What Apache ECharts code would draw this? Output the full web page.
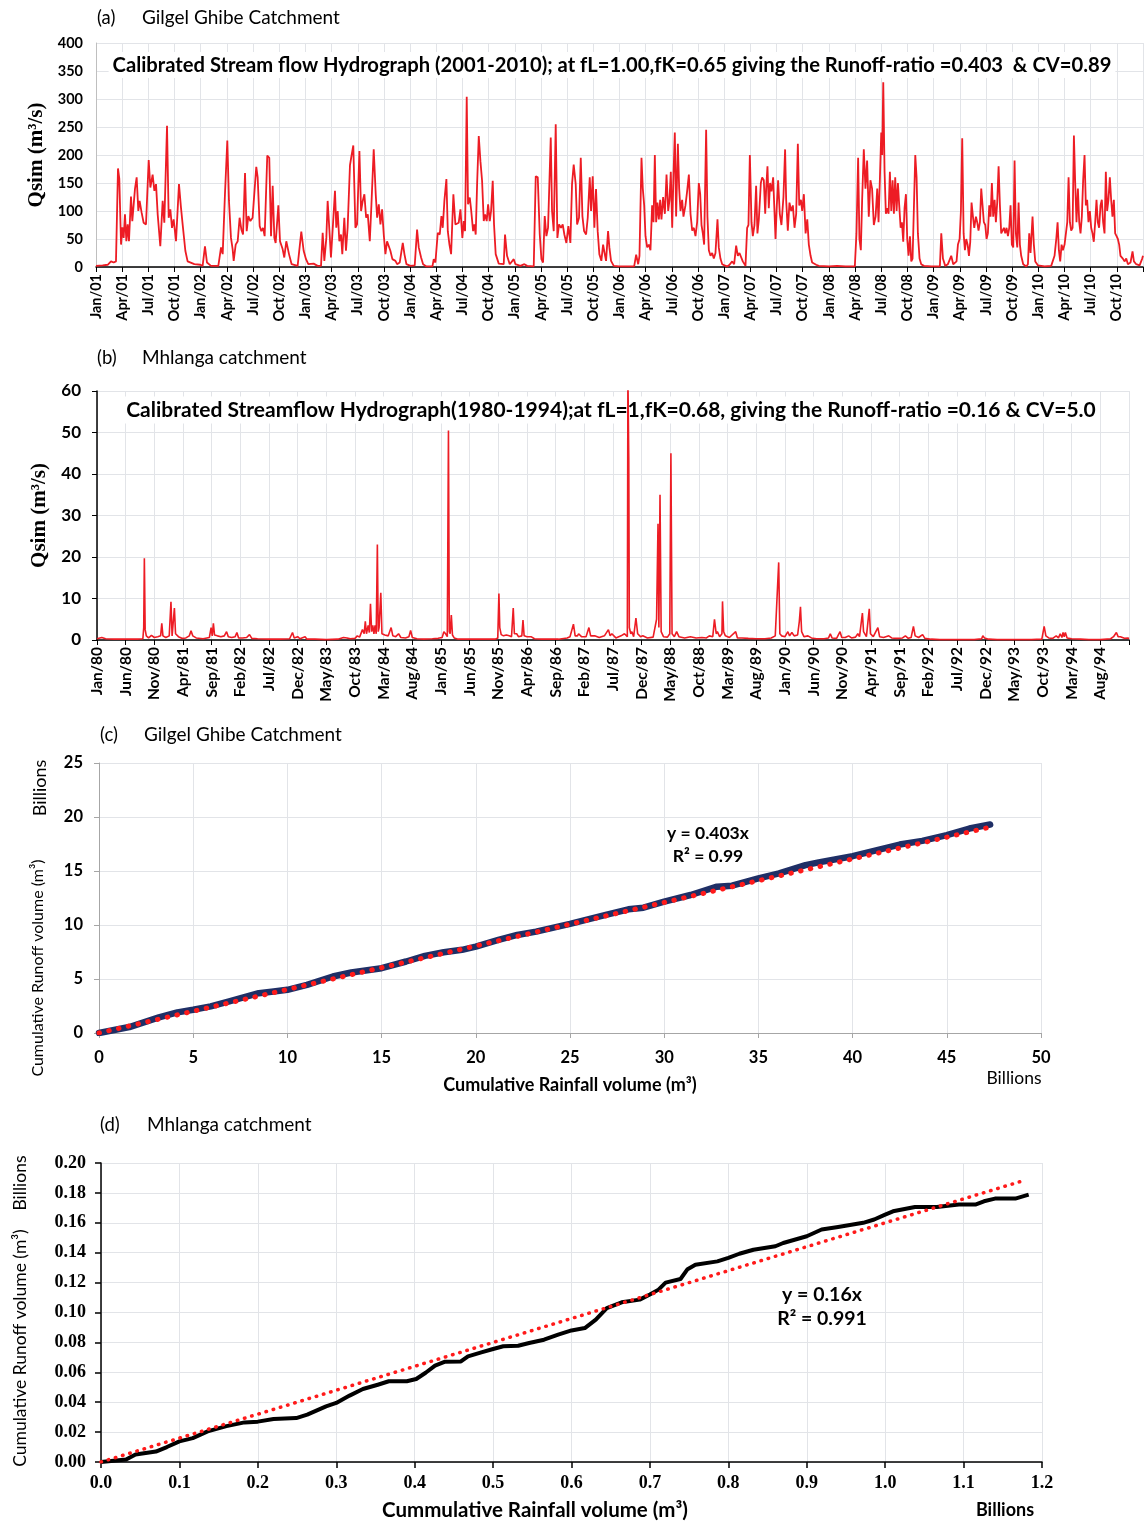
<!DOCTYPE html>
<html><head><meta charset="utf-8">
<script src="https://cdn.jsdelivr.net/npm/echarts@6/dist/echarts.min.js"></script>
<style>html,body{margin:0;padding:0;background:#fff}#c{width:1145px;height:1529px}</style>
</head><body><div id="c"></div>
<script>
// ---------- Panel (a): Gilgel Ghibe daily flow, x = months since Jan 2001, y = Qsim (m3/s)
const labelsA = ['Jan/01','Apr/01','Jul/01','Oct/01','Jan/02','Apr/02','Jul/02','Oct/02','Jan/03','Apr/03','Jul/03','Oct/03','Jan/04','Apr/04','Jul/04','Oct/04','Jan/05','Apr/05','Jul/05','Oct/05','Jan/06','Apr/06','Jul/06','Oct/06','Jan/07','Apr/07','Jul/07','Oct/07','Jan/08','Apr/08','Jul/08','Oct/08','Jan/09','Apr/09','Jul/09','Oct/09','Jan/10','Apr/10','Jul/10','Oct/10'];
const flow2001 = [[0,2],[0.76,3],[1.34,4],[1.72,10],[2.02,8],[2.29,10],[2.52,176],[2.67,158],[2.87,40],[3.02,71],[3.17,52],[3.32,94],[3.48,46],[3.63,76],[3.78,46],[4.01,126],[4.16,82],[4.47,140],[4.66,160],[4.85,100],[5.0,118],[5.23,97],[5.46,79],[5.73,76],[6.04,191],[6.23,142],[6.49,165],[6.69,136],[6.88,148],[7.07,94],[7.37,37],[7.64,118],[7.83,79],[8.14,252],[8.33,88],[8.52,103],[8.71,70],[8.9,85],[9.17,46],[9.51,148],[9.74,106],[9.93,76],[10.24,29],[10.5,10],[11.27,5],[11.96,4]];
const flow2002 = [[12.22,2],[12.49,37],[12.72,8],[13.18,2],[14.02,2],[14.33,35],[14.52,23],[14.78,130],[15.05,226],[15.24,118],[15.47,52],[15.66,32],[15.78,11],[16.01,40],[16.24,46],[16.46,88],[16.66,67],[16.85,58],[17.08,168],[17.27,64],[17.46,91],[17.69,82],[17.95,88],[18.07,115],[18.37,179],[18.53,160],[18.76,73],[18.95,64],[19.14,70],[19.33,55],[19.63,199],[19.86,195],[20.06,55],[20.25,145],[20.44,52],[20.59,43],[20.9,110],[21.09,46],[21.39,32],[21.58,17],[21.81,46],[21.97,49],[22.12,23],[22.42,5],[23.11,2],[23.53,63],[23.8,29]];
const flow2003 = [[24.07,14],[24.33,5],[24.94,6],[25.4,2],[25.79,2],[25.98,61],[26.17,11],[26.4,52],[26.55,118],[26.78,58],[26.93,17],[27.16,76],[27.39,136],[27.54,70],[27.7,100],[27.89,46],[28.08,58],[28.23,23],[28.46,88],[28.65,29],[28.84,70],[29.11,182],[29.3,200],[29.49,217],[29.73,70],[29.92,76],[30.19,207],[30.38,100],[30.57,118],[30.76,130],[30.96,88],[31.15,94],[31.38,46],[31.57,112],[31.83,210],[32.06,130],[32.22,88],[32.41,112],[32.6,76],[32.79,103],[32.98,58],[33.17,23],[33.36,46],[33.55,49],[33.74,29],[33.97,14],[34.32,11],[34.51,5],[34.81,8],[35.16,43],[35.35,23],[35.58,5]];
const flow2004 = [[36.04,2],[36.53,3],[36.8,67],[36.99,35],[37.26,17],[37.49,5],[37.87,1],[38.56,1],[38.71,14],[38.9,8],[39.17,61],[39.4,58],[39.59,91],[39.74,70],[39.93,118],[40.16,157],[40.32,64],[40.51,40],[40.7,23],[40.96,130],[41.19,76],[41.38,73],[41.57,79],[41.77,103],[41.99,52],[42.15,82],[42.3,64],[42.49,304],[42.64,112],[42.84,124],[42.99,103],[43.22,64],[43.37,76],[43.52,58],[43.68,148],[43.87,234],[44.06,189],[44.25,154],[44.44,82],[44.59,94],[44.78,82],[44.94,112],[45.13,82],[45.28,100],[45.47,154],[45.62,76],[45.81,23],[46.16,6],[46.73,5],[46.88,58],[47.11,20],[47.42,5],[47.88,14]];
const flow2005 = [[48.07,5],[48.64,2],[49.1,5],[49.41,2],[50.17,1],[50.4,162],[50.63,160],[50.86,58],[51.05,14],[51.24,8],[51.43,91],[51.62,55],[51.81,70],[52.12,231],[52.27,100],[52.46,64],[52.69,255],[52.88,52],[53.07,76],[53.3,70],[53.49,76],[53.68,58],[53.91,43],[54.14,73],[54.37,43],[54.56,148],[54.75,183],[54.98,148],[55.14,76],[55.36,88],[55.56,195],[55.75,91],[55.94,64],[56.17,58],[56.36,88],[56.59,160],[56.74,100],[56.93,162],[57.12,70],[57.31,139],[57.5,64],[57.69,23],[57.92,11],[58.12,40],[58.31,23],[58.46,11],[58.69,64],[58.84,35],[59.03,11],[59.34,2],[59.91,1]];
const flow2006 = [[60.69,1],[61.68,1],[61.91,22],[62.14,5],[62.29,20],[62.52,195],[62.67,140],[62.83,110],[62.98,55],[63.17,35],[63.36,40],[63.55,30],[63.74,110],[63.9,80],[64.05,200],[64.2,80],[64.35,115],[64.51,85],[64.66,120],[64.81,85],[65.0,125],[65.2,95],[65.39,165],[65.58,100],[65.73,120],[65.88,170],[66.04,70],[66.19,165],[66.34,240],[66.49,90],[66.69,220],[66.84,140],[66.99,100],[67.18,120],[67.33,90],[67.56,110],[67.75,135],[67.95,165],[68.14,95],[68.33,65],[68.52,70],[68.71,55],[68.9,80],[69.09,150],[69.25,130],[69.4,75],[69.55,60],[69.7,40],[69.93,245],[70.08,90],[70.24,30],[70.43,20],[70.62,25],[70.81,15],[71.0,25],[71.23,85],[71.38,35],[71.57,15],[71.77,5]];
const flow2007 = [[72.03,3],[72.34,1],[72.61,4],[72.91,10],[73.14,5],[73.37,38],[73.56,20],[73.75,25],[73.94,23],[74.13,10],[74.44,2],[74.63,70],[74.78,75],[74.94,200],[75.13,80],[75.28,55],[75.47,75],[75.66,145],[75.81,60],[75.97,85],[76.2,150],[76.35,160],[76.54,155],[76.7,95],[76.81,140],[76.96,180],[77.11,105],[77.26,150],[77.42,135],[77.61,160],[77.76,100],[77.88,50],[78.03,110],[78.18,155],[78.37,95],[78.56,75],[78.79,125],[78.98,210],[79.1,120],[79.29,65],[79.48,115],[79.68,100],[79.87,110],[80.06,70],[80.25,95],[80.44,220],[80.6,110],[80.79,120],[80.94,100],[81.13,130],[81.33,60],[81.52,85],[81.7,40],[81.9,20],[82.08,8],[82.27,10],[82.54,4],[82.84,2]];
const flow2008 = [[84.0,1],[84.94,2],[85.9,1],[86.97,1],[87.16,60],[87.35,195],[87.5,50],[87.66,30],[87.81,120],[88.0,210],[88.19,140],[88.38,190],[88.57,90],[88.76,155],[88.95,140],[89.15,75],[89.35,90],[89.54,140],[89.69,80],[89.85,160],[90.0,240],[90.11,200],[90.23,330],[90.38,170],[90.53,95],[90.69,105],[90.84,95],[90.99,170],[91.15,100],[91.3,155],[91.45,95],[91.6,160],[91.76,100],[91.91,150],[92.06,110],[92.22,70],[92.37,80],[92.52,45],[92.67,105],[92.83,130],[92.98,50],[93.13,20],[93.29,55],[93.44,10],[93.59,15],[93.74,15],[93.9,200],[94.05,160],[94.2,60],[94.39,15],[94.58,5],[94.89,2],[95.73,1]];
const flow2009 = [[96.72,1],[96.88,60],[97.07,15],[97.33,2],[97.64,5],[98.02,20],[98.25,5],[98.63,10],[98.79,40],[98.98,50],[99.13,100],[99.28,230],[99.44,60],[99.59,30],[99.74,50],[99.9,40],[100.05,20],[100.2,45],[100.35,115],[100.51,90],[100.66,70],[100.85,90],[101.0,80],[101.15,65],[101.31,80],[101.46,140],[101.61,110],[101.76,80],[101.92,75],[102.07,50],[102.22,60],[102.38,110],[102.53,90],[102.68,150],[102.83,90],[102.99,120],[103.14,80],[103.29,115],[103.45,180],[103.6,110],[103.75,60],[103.9,60],[104.06,70],[104.21,60],[104.36,70],[104.52,55],[104.67,70],[104.82,110],[104.97,40],[105.13,35],[105.28,190],[105.43,60],[105.59,35],[105.74,115],[105.89,40],[106.04,20],[106.27,5],[106.62,1],[106.81,5],[106.96,60],[107.11,25],[107.34,90],[107.49,40],[107.65,10],[107.95,3]];
const flow2010 = [[108.72,1],[109.48,2],[109.86,20],[110.06,50],[110.21,80],[110.36,30],[110.51,10],[110.67,40],[110.82,30],[111.01,40],[111.16,40],[111.32,80],[111.47,160],[111.62,80],[111.77,65],[111.93,70],[112.08,235],[112.23,150],[112.38,80],[112.54,140],[112.69,80],[112.84,60],[112.99,90],[113.14,155],[113.3,200],[113.45,110],[113.6,120],[113.75,80],[113.91,100],[114.06,70],[114.21,60],[114.36,45],[114.52,80],[114.67,120],[114.82,80],[114.97,70],[115.13,110],[115.28,120],[115.43,80],[115.59,60],[115.74,170],[115.89,100],[116.04,120],[116.2,160],[116.35,120],[116.5,90],[116.66,120],[116.81,60],[116.97,55],[117.12,50],[117.27,40],[117.42,20],[117.69,15],[117.88,10],[118.08,15],[118.27,5],[118.57,8],[118.8,28],[118.96,10],[119.22,5],[119.61,3],[119.91,15],[120,20]];

// ---------- Panel (b): Mhlanga, x = months since Jan 1980
const labelsB = ['Jan/80','Jun/80','Nov/80','Apr/81','Sep/81','Feb/82','Jul/82','Dec/82','May/83','Oct/83','Mar/84','Aug/84','Jan/85','Jun/85','Nov/85','Apr/86','Sep/86','Feb/87','Jul/87','Dec/87','May/88','Oct/88','Mar/89','Aug/89','Jan/90','Jun/90','Nov/90','Apr/91','Sep/91','Feb/92','Jul/92','Dec/92','May/93','Oct/93','Mar/94','Aug/94'];
const flow1980_81 = [[0,0.3],[0.84,0.6],[1.5,0.3],[3,0.2],[5,0.2],[7,0.2],[8.0,0.3],[8.15,3],[8.26,19.7],[8.4,2.5],[8.6,1],[9,0.5],[9.5,1.1],[10,0.6],[10.6,0.8],[11.1,1],[11.3,4],[11.5,1],[12,0.6],[12.6,1],[12.9,9.2],[13.1,1],[13.3,1.2],[13.5,7.7],[13.7,1.5],[14.2,0.8],[14.8,0.4],[15.5,0.5],[16.1,1],[16.4,2.2],[16.7,1],[17.3,0.5],[18.5,0.3],[19.6,0.6],[19.9,3],[20.1,1],[20.3,4],[20.5,1.2],[21,1],[21.6,0.8],[22.2,1],[22.6,2],[22.9,0.8],[23.5,0.6]];
const flow1982_84 = [[24.1,0.8],[24.4,1.8],[24.7,0.5],[25.4,0.5],[26.1,0.6],[26.6,1.3],[27,0.4],[28,0.3],[30,0.2],[32,0.2],[33.6,0.3],[33.9,1.2],[34.1,1.8],[34.4,0.5],[35,0.8],[35.4,0.3],[36.3,0.8],[36.6,0.2],[38,0.2],[40,0.1],[42,0.2],[43,0.6],[43.6,0.5],[44.2,0.3],[45,0.4],[45.4,1],[45.8,0.7],[46.3,2.5],[46.6,1.5],[46.8,4.5],[47,1.5],[47.3,3.5],[47.5,1.8],[47.7,8.7],[47.9,2],[48.1,3.5],[48.3,1.5],[48.5,3.5],[48.7,1.5],[48.9,23],[49.05,2],[49.2,3],[49.5,11.4],[49.7,1.5],[50.2,1.2],[50.8,1],[51.3,3],[51.6,1],[52.1,0.8],[52.6,1.5],[53,0.6],[53.8,0.5],[54.4,0.8],[54.7,2.3],[55,0.6],[55.8,0.3],[57,0.2],[58.5,0.3],[59.5,0.4]];
const flow1985_86 = [[60.2,0.6],[60.5,2],[60.8,1.5],[61.1,0.8],[61.3,50.5],[61.45,2],[61.6,1.5],[61.8,6],[62,1.2],[62.3,0.5],[63,0.2],[65,0.2],[67,0.2],[69.5,0.2],[69.9,0.5],[70.1,11.2],[70.25,3],[70.5,1.3],[70.9,1],[71.4,1.2],[71.9,1],[72.3,0.8],[72.6,7.7],[72.8,1.5],[73.2,1.5],[73.5,0.8],[74.1,1],[74.3,4.8],[74.5,1],[75,0.8],[75.7,0.8],[76.3,0.3],[77.5,0.2],[79,0.2],[80.5,0.2],[82,0.5],[82.5,0.8],[83.1,3.8],[83.4,1]];
const flow1987_88 = [[83.8,1],[84,1.5],[84.5,0.8],[85.3,0.8],[85.8,3],[86.1,1],[86.8,1],[87.6,0.6],[88.5,1],[89.2,2.5],[89.5,1],[89.8,1.5],[90.5,0.5],[91.4,1],[92,1.5],[92.5,0.8],[92.6,64],[92.75,44],[92.85,3],[93.1,1.5],[93.3,2],[93.6,0.8],[94,5.3],[94.3,1.5],[94.8,0.8],[95.2,1],[96,0.5],[97,0.7],[97.3,1],[97.6,5],[97.85,28],[98.0,3],[98.2,35],[98.4,2],[98.8,0.8],[99.5,0.7],[99.9,1.5],[100.1,45],[100.3,1.5],[100.7,0.8],[101.1,2],[101.5,0.8],[102.5,0.5],[103.5,0.8],[104.5,0.5]];
const flow1989_91 = [[105.5,0.6],[106.3,0.5],[106.8,1],[107.4,0.8],[107.7,5],[108,1.5],[108.2,2],[108.6,0.8],[109.0,1.5],[109.1,9.3],[109.3,2],[109.6,1],[110.3,0.6],[111.4,2],[111.7,0.5],[112.5,0.5],[113.6,0.4],[115,0.3],[116.5,0.3],[117.6,0.5],[118.3,1],[118.9,18.7],[119.1,1.5],[119.4,1],[120,0.8],[120.5,2],[120.8,1],[121.2,1.8],[121.6,1],[122.2,1.2],[122.5,4.5],[122.7,8],[122.9,2],[123.3,0.8],[124,1],[124.6,0.5],[125.5,0.3],[126.8,0.3],[127.6,0.5],[127.9,1.5],[128.2,0.5],[129,0.4],[129.6,2],[129.9,0.6],[130.5,0.6],[131.1,1],[131.6,0.5],[132.3,0.7],[132.7,1.5],[133,0.8],[133.5,6.5],[133.7,2],[134.2,0.8],[134.7,7.5],[134.9,1.5],[135.4,0.8],[136.2,3],[136.5,0.8],[137.2,0.6],[138.1,1],[138.6,0.5],[139.5,0.4],[140.5,0.5],[141,1],[141.5,0.4],[142,0.6],[142.4,3.3],[142.7,1],[143.3,0.6],[144,1.3],[144.4,0.4],[145.5,0.2]];
const flow1992_94 = [[147,0.1],[149,0.1],[151,0.1],[153,0.1],[154.3,0.3],[154.5,1],[154.8,0.5],[155.1,0.8],[155.5,0.2],[157,0.1],[159,0.1],[161,0.1],[163,0.1],[164.8,0.2],[165.2,3.3],[165.5,1],[166,0.5],[166.7,0.4],[167.3,1],[167.7,0.5],[168,1.5],[168.3,0.6],[168.5,1.8],[168.7,0.8],[168.9,1.8],[169.2,0.5],[169.5,0.8],[170,0.3],[171.5,0.2],[173,0.1],[175,0.1],[176.8,0.3],[177.3,0.8],[177.8,1.8],[178.1,0.8],[178.5,0.8],[179.2,0.4],[179.8,0.5],[180,0.3]];

// ---------- Panel (c): Gilgel Ghibe cumulative volumes (billions m3)
const rainC = [0,1.61,3.18,4.16,5.0,5.93,6.91,8.48,9.27,10.0,11.04,12.41,13.39,15.0,16.3,17.3,18.3,19.27,20.0,21.2,22.2,23.2,25.0,26.9,28.1,28.9,30,31.4,32.8,33.6,35.0,36.1,37.5,38.2,40.0,41.3,42.5,43.7,45.0,46.2,47.3];
const runoffC = [0,0.55,1.45,1.91,2.15,2.46,2.92,3.69,3.85,4.0,4.46,5.23,5.6,6.0,6.62,7.14,7.48,7.7,8.0,8.62,9.08,9.39,10.1,10.93,11.45,11.6,12.16,12.78,13.55,13.64,14.32,14.78,15.55,15.8,16.37,16.93,17.45,17.79,18.32,18.93,19.3];
const trendCx = [0, 47.3];
const trendCy = [0, 19.06];

// ---------- Panel (d): Mhlanga cumulative volumes (billions m3)
const rainD = [0,0.032,0.044,0.07,0.084,0.1,0.117,0.136,0.16,0.183,0.2,0.22,0.249,0.263,0.287,0.3,0.317,0.334,0.353,0.367,0.39,0.402,0.414,0.426,0.438,0.459,0.468,0.485,0.5,0.513,0.532,0.546,0.565,0.583,0.6,0.617,0.631,0.645,0.664,0.687,0.7,0.711,0.72,0.739,0.748,0.758,0.786,0.8,0.814,0.832,0.86,0.87,0.9,0.919,0.94,0.972,0.986,1.0,1.01,1.038,1.066,1.094,1.115,1.126,1.14,1.166,1.183];
const runoffD = [0,0.0016,0.005,0.007,0.010,0.0138,0.016,0.0205,0.024,0.0265,0.027,0.0288,0.0294,0.0317,0.0372,0.0395,0.0444,0.0488,0.0517,0.054,0.054,0.0555,0.0597,0.0645,0.067,0.0673,0.0707,0.0733,0.0756,0.0774,0.0778,0.0796,0.0818,0.0852,0.0880,0.0896,0.0952,0.103,0.1068,0.1086,0.112,0.1153,0.120,0.1224,0.129,0.132,0.1342,0.1365,0.1393,0.142,0.1443,0.1465,0.151,0.1555,0.1572,0.160,0.1622,0.1655,0.1677,0.1706,0.1706,0.1722,0.1722,0.1744,0.1762,0.1762,0.1788];
const trendDx = [0, 1.18];
const trendDy = [0, 0.1888];

// ---------- build
const SANS = 'Lato, "Open Sans", sans-serif';
const SERIF = '"Liberation Serif", "DejaVu Serif", serif';
const GRIDC = '#e2e4e8';
const flowA = [].concat(flow2001, flow2002, flow2003, flow2004, flow2005, flow2006, flow2007, flow2008, flow2009, flow2010);
const flowB = [].concat(flow1980_81, flow1982_84, flow1985_86, flow1987_88, flow1989_91, flow1992_94);
const zip = (xs, ys) => xs.map((x, i) => [x, ys[i]]);

function txt(text, x, y, o) {
  o = o || {};
  return {
    type: 'text', x: x, y: y, rotation: o.rot || 0, z: o.z || 10,
    style: {
      text: text, fill: o.color || '#000',
      font: (o.weight || 'normal') + ' ' + (o.size || 16) + 'px ' + (o.family || SANS),
      align: o.align || 'left', verticalAlign: 'middle',
      backgroundColor: o.bg, padding: o.pad
    }
  };
}

const chart = echarts.init(document.getElementById('c'));
chart.setOption({
  animation: false,
  backgroundColor: '#fff',
  grid: [
    {left: 96, top: 43, width: 1047, height: 224},
    {left: 97, top: 391, width: 1032, height: 249},
    {left: 99, top: 763, width: 942, height: 270},
    {left: 101, top: 1163, width: 941, height: 299}
  ],
  xAxis: [
    {gridIndex: 0, type: 'value', min: 0, max: 120, interval: 3,
     axisLine: {lineStyle: {color: '#000', width: 1.5}}, axisTick: {length: 5, lineStyle: {color: '#000'}},
     axisLabel: {rotate: 90, margin: 7, formatter: v => labelsA[Math.round(v / 3)] || '', fontFamily: SANS, fontWeight: 'bold', fontSize: 14.5, color: '#000'},
     splitLine: {show: true, lineStyle: {color: GRIDC}}},
    {gridIndex: 1, type: 'value', min: 0, max: 180, interval: 5,
     axisLine: {lineStyle: {color: '#000', width: 1.5}}, axisTick: {length: 5, lineStyle: {color: '#000'}},
     axisLabel: {rotate: 90, margin: 7, formatter: v => labelsB[Math.round(v / 5)] || '', fontFamily: SANS, fontWeight: 'bold', fontSize: 15.5, color: '#000'},
     splitLine: {show: true, lineStyle: {color: GRIDC}}},
    {gridIndex: 2, type: 'value', min: 0, max: 50, interval: 5,
     axisLine: {lineStyle: {color: '#a6a6a6', width: 1}}, axisTick: {length: 5, lineStyle: {color: '#a6a6a6'}},
     axisLabel: {margin: 16, fontFamily: SANS, fontWeight: 'bold', fontSize: 16.5, color: '#000'},
     splitLine: {show: true, lineStyle: {color: GRIDC}},
     name: 'Cumulative Rainfall volume (m³)', nameLocation: 'middle', nameGap: 43,
     nameTextStyle: {fontFamily: SANS, fontWeight: 'bold', fontSize: 18, color: '#000'}},
    {gridIndex: 3, type: 'value', min: 0, max: 1.2, interval: 0.1,
     axisLine: {lineStyle: {color: '#000', width: 1.5}}, axisTick: {length: 6, lineStyle: {color: '#000', width: 1.5}},
     axisLabel: {margin: 12, formatter: v => v.toFixed(1), fontFamily: SERIF, fontWeight: 'bold', fontSize: 18, color: '#000'},
     splitLine: {show: true, lineStyle: {color: GRIDC}}}
  ],
  yAxis: [
    {gridIndex: 0, type: 'value', min: 0, max: 400, interval: 50,
     axisLine: {show: true, lineStyle: {color: '#bfbfbf'}}, axisTick: {show: false},
     axisLabel: {margin: 13, fontFamily: SANS, fontWeight: 'bold', fontSize: 14.5, color: '#000'},
     splitLine: {lineStyle: {color: GRIDC}},
     name: 'Qsim (m³/s)', nameLocation: 'middle', nameGap: 46,
     nameTextStyle: {fontFamily: SERIF, fontWeight: 'bold', fontSize: 21, color: '#000'}},
    {gridIndex: 1, type: 'value', min: 0, max: 60, interval: 10,
     axisLine: {show: true, lineStyle: {color: '#000', width: 1.5}}, axisTick: {show: true, length: 5, lineStyle: {color: '#000'}},
     axisLabel: {margin: 16, fontFamily: SANS, fontWeight: 'bold', fontSize: 17, color: '#000'},
     splitLine: {lineStyle: {color: GRIDC}},
     name: 'Qsim (m³/s)', nameLocation: 'middle', nameGap: 42,
     nameTextStyle: {fontFamily: SERIF, fontWeight: 'bold', fontSize: 21, color: '#000'}},
    {gridIndex: 2, type: 'value', min: 0, max: 25, interval: 5,
     axisLine: {show: true, lineStyle: {color: '#a6a6a6'}}, axisTick: {show: true, length: 5, lineStyle: {color: '#a6a6a6'}},
     axisLabel: {margin: 16, fontFamily: SANS, fontWeight: 'bold', fontSize: 16.5, color: '#000'},
     splitLine: {lineStyle: {color: GRIDC}}},
    {gridIndex: 3, type: 'value', min: 0, max: 0.2, interval: 0.02,
     axisLine: {show: true, lineStyle: {color: '#000', width: 1.5}}, axisTick: {show: true, length: 6, lineStyle: {color: '#000', width: 1.5}},
     axisLabel: {margin: 15, formatter: v => v.toFixed(2), fontFamily: SERIF, fontWeight: 'bold', fontSize: 18, color: '#000'},
     splitLine: {lineStyle: {color: GRIDC}}}
  ],
  series: [
    {type: 'line', xAxisIndex: 0, yAxisIndex: 0, data: flowA, showSymbol: false, z: 5,
     lineStyle: {color: '#ed1c24', width: 1.8}},
    {type: 'line', xAxisIndex: 1, yAxisIndex: 1, data: flowB, showSymbol: false, z: 5,
     lineStyle: {color: '#ed1c24', width: 1.6}},
    {type: 'line', xAxisIndex: 2, yAxisIndex: 2, data: zip(rainC, runoffC), showSymbol: false, z: 5,
     lineStyle: {color: '#1f2f66', width: 6.5, cap: 'round', join: 'round'}},
    {type: 'line', xAxisIndex: 2, yAxisIndex: 2, data: zip(trendCx, trendCy), showSymbol: false, z: 6,
     lineStyle: {color: '#ff1a1a', width: 5, type: [0.5, 9.5], cap: 'round'}},
    {type: 'line', xAxisIndex: 3, yAxisIndex: 3, data: zip(rainD, runoffD), showSymbol: false, z: 5,
     lineStyle: {color: '#000', width: 4, join: 'round'}},
    {type: 'line', xAxisIndex: 3, yAxisIndex: 3, data: zip(trendDx, trendDy), showSymbol: false, z: 6,
     lineStyle: {color: '#ff1a1a', width: 3.5, type: [0.5, 7], cap: 'round'}}
  ],
  graphic: [
    txt('(a)', 97, 18, {size: 18.5}),
    txt('Gilgel Ghibe Catchment', 142, 18, {size: 19}),
    txt('Calibrated Stream flow Hydrograph (2001-2010); at fL=1.00,fK=0.65 giving the Runoff-ratio =0.403  & CV=0.89', 612, 65, {size: 20.2, weight: 'bold', align: 'center', z: 1, bg: '#fff', pad: [3, 4]}),
    txt('(b)', 97, 358, {size: 18.5}),
    txt('Mhlanga catchment', 142, 358, {size: 19}),
    txt('Calibrated Streamflow Hydrograph(1980-1994);at fL=1,fK=0.68, giving the Runoff-ratio =0.16 & CV=5.0', 611, 410, {size: 21, weight: 'bold', align: 'center', z: 1, bg: '#fff', pad: [3, 4]}),
    txt('(c)', 100, 735, {size: 18.5}),
    txt('Gilgel Ghibe Catchment', 144, 735, {size: 19}),
    txt('Billions', 40, 788, {size: 18, rot: Math.PI / 2, align: 'center'}),
    txt('Cumulative Runoff volume (m³)', 38, 968, {size: 16, rot: Math.PI / 2, align: 'center'}),
    txt('Billions', 1014, 1078, {size: 17.5, align: 'center'}),
    txt('y = 0.403x', 708, 833, {size: 17.5, weight: 'bold', align: 'center'}),
    txt('R² = 0.99', 708, 856, {size: 17.5, weight: 'bold', align: 'center'}),
    txt('(d)', 100, 1125, {size: 18.5}),
    txt('Mhlanga catchment', 147, 1125, {size: 19}),
    txt('Billions', 20, 1183, {size: 17.5, rot: Math.PI / 2, align: 'center'}),
    txt('Cumulative Runoff volume (m³)', 20, 1348, {size: 17.5, rot: Math.PI / 2, align: 'center'}),
    txt('Cummulative Rainfall volume (m³)', 535, 1510, {size: 20.5, weight: 'bold', align: 'center'}),
    txt('Billions', 1005, 1510, {size: 18, weight: 'bold', align: 'center'}),
    txt('y = 0.16x', 822, 1295, {size: 19.5, weight: 'bold', align: 'center'}),
    txt('R² = 0.991', 822, 1319, {size: 19.5, weight: 'bold', align: 'center'})
  ]
});
</script></body></html>
